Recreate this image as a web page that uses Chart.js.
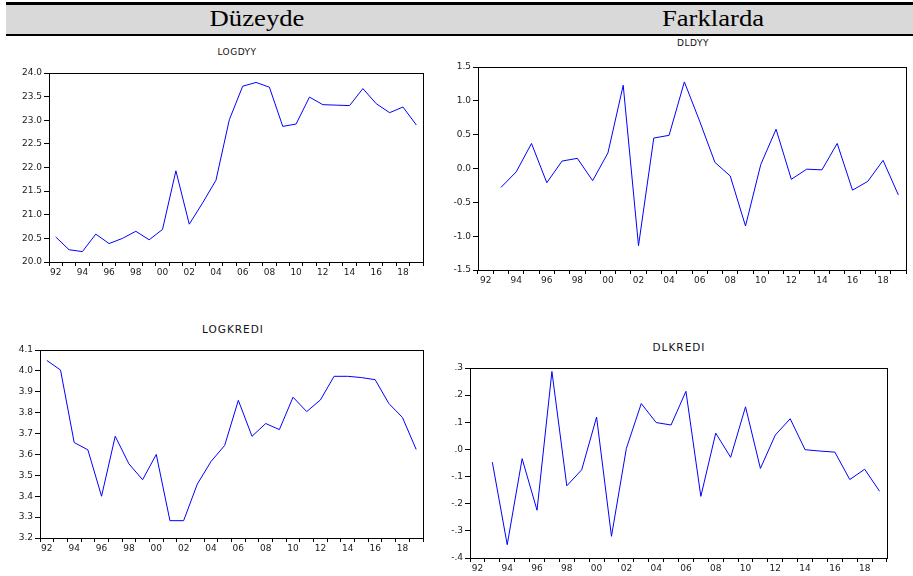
<!DOCTYPE html>
<html>
<head>
<meta charset="utf-8">
<script src="https://cdn.jsdelivr.net/npm/chart.js@4/dist/chart.umd.min.js"></script>
<style>
    html, body { margin: 0; padding: 0; background: #fff; }
    body { width: 913px; height: 576px; position: relative; overflow: hidden; }
    .header {
        position: absolute; left: 6px; top: 2px; width: 907px; height: 29px;
        background: #d9d9d9; border-top: 3px solid #000; border-bottom: 2px solid #000;
    }
    .head-txt {
        position: absolute; top: 1px; transform: translateX(-50%) scaleX(1.16);
        font-family: 'Liberation Serif', serif; font-size: 23px; color: #000;
        white-space: nowrap;
    }
    .title {
        position: absolute; transform: translate(-50%, -50%);
        font-family: 'DejaVu Sans', sans-serif; font-size: 9px; letter-spacing: 0.5px; color: #111;
        white-space: nowrap;
    }
    .box { position: absolute; }
    .box canvas { width: 100% !important; height: 100% !important; }
</style>
</head>
<body>
<div class="header">
    <div class="head-txt" style="left: 251px;">Düzeyde</div>
    <div class="head-txt" style="left: 707px;">Farklarda</div>
</div>

<div class="title" style="left: 237px; top: 52px;">LOGDYY</div>
<div class="title" style="left: 693px; top: 43px;">DLDYY</div>
<div class="title" style="left: 233px; top: 329px; font-size: 10.5px; letter-spacing: 1px;">LOGKREDI</div>
<div class="title" style="left: 679px; top: 347px; font-size: 10.5px; letter-spacing: 1px;">DLKREDI</div>

<div class="box" style="left: 0px; top: 65px; width: 427px; height: 217px;"><canvas id="c1"></canvas></div>
<div class="box" style="left: 438px; top: 59px; width: 472px; height: 231px;"><canvas id="c2"></canvas></div>
<div class="box" style="left: 0px; top: 342px; width: 427px; height: 216px;"><canvas id="c3"></canvas></div>
<div class="box" style="left: 430px; top: 360px; width: 461px; height: 218px;"><canvas id="c4"></canvas></div>

<script>
// yıllar 1992-2019
const years = [1992, 1993, 1994, 1995, 1996, 1997, 1998, 1999, 2000, 2001, 2002, 2003, 2004, 2005,
    2006, 2007, 2008, 2009, 2010, 2011, 2012, 2013, 2014, 2015, 2016, 2017, 2018, 2019];

const logdyy = [20.53, 20.26, 20.22, 20.59, 20.39, 20.50, 20.65, 20.47, 20.69, 21.93, 20.80, 21.25, 21.73, 23.01,
    23.72, 23.80, 23.70, 22.87, 22.92, 23.49, 23.33, 23.32, 23.31, 23.67, 23.35, 23.16, 23.28, 22.90];

const dldyy = [null, -0.28, -0.05, 0.37, -0.21, 0.11, 0.15, -0.18, 0.23, 1.23, -1.14, 0.45, 0.49, 1.28,
    0.70, 0.09, -0.11, -0.85, 0.06, 0.58, -0.16, -0.01, -0.02, 0.37, -0.32, -0.19, 0.12, -0.39];

const logkredi = [4.050, 4.004, 3.657, 3.622, 3.400, 3.687, 3.555, 3.479, 3.600, 3.283, 3.283, 3.458, 3.566, 3.643,
    3.859, 3.687, 3.748, 3.719, 3.874, 3.805, 3.861, 3.974, 3.974, 3.968, 3.958, 3.844, 3.777, 3.624];

const dlkredi = [null, -0.047, -0.351, -0.034, -0.224, 0.287, -0.134, -0.075, 0.119, -0.320, 0.004, 0.169, 0.099, 0.090,
    0.214, -0.173, 0.060, -0.029, 0.157, -0.070, 0.053, 0.113, -0.001, -0.006, -0.010, -0.111, -0.073, -0.154];

const fontAxis = { family: '"DejaVu Sans", sans-serif', size: 9 };
const txtColor = '#1a1a1a';

// çerçeve: chartArea etrafına tam kutu
const frame = {
    id: 'frame',
    afterDraw(chart) {
        const a = chart.chartArea;
        const ctx = chart.ctx;
        ctx.save();
        ctx.strokeStyle = '#000';
        ctx.lineWidth = 1;
        ctx.strokeRect(Math.round(a.left) + 0.5, Math.round(a.top) + 0.5,
            Math.round(a.right - a.left), Math.round(a.bottom - a.top));
        ctx.restore();
    }
};

function fmt1(v) { return (Math.abs(v) < 1e-9 ? 0 : v).toFixed(1); }
function fmtDot(v) { return fmt1(v).replace('0.', '.'); }

function drawPanel(id, values, yMin, yMax, step, yWidth, fmt) {
    const ctx = document.getElementById(id).getContext('2d');
    return new Chart(ctx, {
        type: 'line',
        data: {
            labels: years,
            datasets: [{
                data: values,
                borderColor: '#0000ff',
                borderWidth: 1,
                pointRadius: 0,
                tension: 0,
                fill: false,
                spanGaps: false
            }]
        },
        plugins: [frame],
        options: {
            responsive: true,
            maintainAspectRatio: false,
            animation: false,
            layout: { padding: { top: 8, right: 4, left: 0, bottom: 0 } },
            plugins: { legend: { display: false }, tooltip: { enabled: false } },
            scales: {
                x: {
                    type: 'category',
                    offset: true,
                    grid: { offset: true, drawOnChartArea: false, tickLength: 4, color: '#000' },
                    border: { color: '#000' },
                    ticks: {
                        autoSkip: false, maxRotation: 0, padding: 1, color: txtColor, font: fontAxis,
                        callback: function (v, i) {
                            const y = years[i];
                            return y % 2 === 0 ? String(y).slice(2) : '';
                        }
                    },
                    afterFit: (s) => { s.height = 20; }
                },
                y: {
                    min: yMin, max: yMax,
                    grid: { drawOnChartArea: false, tickLength: 5, color: '#000' },
                    border: { color: '#000' },
                    ticks: { stepSize: step, padding: 2, color: txtColor, font: fontAxis, callback: (v) => fmt(v) },
                    afterFit: (s) => { s.width = yWidth; }
                }
            }
        }
    });
}

drawPanel('c1', logdyy, 20.0, 24.0, 0.5, 49, fmt1);
drawPanel('c2', dldyy, -1.5, 1.5, 0.5, 40, fmt1);
drawPanel('c3', logkredi, 3.2, 4.1, 0.1, 40, fmt1);
drawPanel('c4', dlkredi, -0.4, 0.3, 0.1, 40, fmtDot);
</script>
</body>
</html>
